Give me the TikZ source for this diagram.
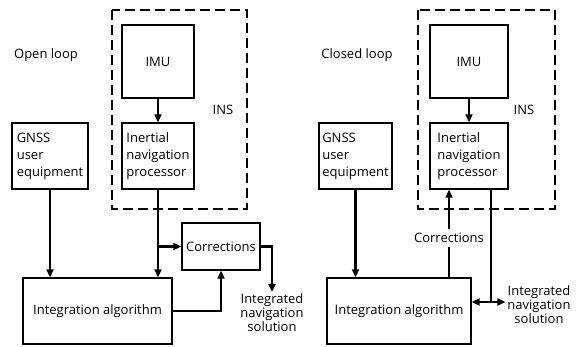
\documentclass[tikz,border=0pt]{standalone}
\usepackage{fontspec}
\setmainfont{Open Sans}
\usepackage{tikz}
\usetikzlibrary{arrows}
\usetikzlibrary{arrows.meta}
\usetikzlibrary{positioning}

\begin{document}
\begin{tikzpicture}[x=1pt, y=-1pt, >={Triangle[length=8pt,width=7pt]}, line width=2.2pt]
\tikzstyle{every node} = [font=\fontsize{13}{17}\selectfont]
\tikzstyle{block} = [draw=black, line width=1.4pt, align=left, inner sep=2pt]
\tikzstyle{insbox} = [draw=black, line width=2.6pt, dash pattern=on 10pt off 5pt]
\tikzstyle{label} = [align=center, inner sep=1pt, font=\fontsize{13}{14}\selectfont]

\useasboundingbox (0,0) rectangle (577,347);

% open loop
\node at (46,55) (TitleL) {Open loop};
\draw[insbox] (112,10) rectangle (247,209);
\node at (223,110) (InsL) {INS};
\node[block, minimum width=72pt, minimum height=73pt] at (158,61.5) (ImuL) {IMU};
\node[block, minimum width=72pt, minimum height=66pt] at (158,156) (InpL) {Inertial\\navigation\\processor};
\node[block, minimum width=76pt, minimum height=66pt] at (50,156) (GnssL) {GNSS\\user\\equipment};
\node[block, minimum width=149pt, minimum height=66pt] at (97.5,311) (IntL) {Integration algorithm};
\node[block, minimum width=78pt, minimum height=47pt] at (221,246.5) (CorrL) {Corrections};
\node[label] at (272,313) (OutL) {Integrated\\navigation\\solution};

\draw[->] (ImuL) -- (InpL);
\draw[->] (GnssL) -- (GnssL |- IntL.north);
\draw[->] (InpL.south) -- (InpL.south |- IntL.north);
\draw[->] (InpL.south |- CorrL.west) -- (CorrL.west);
\draw[->] (CorrL.east) -| (OutL.north);
\draw[->] (IntL.east) -| (CorrL.south);

% closed loop
\node at (357,55) (TitleR) {Closed loop};
\draw[insbox] (418,10) rectangle (555,209);
\node at (524,110) (InsR) {INS};
\node[block, minimum width=78pt, minimum height=73pt] at (469,61.5) (ImuR) {IMU};
\node[block, minimum width=78pt, minimum height=66pt] at (469,156) (InpR) {Inertial\\navigation\\processor};
\node[block, minimum width=73pt, minimum height=66pt] at (355.5,156) (GnssR) {GNSS\\user\\equipment};
\node[block, minimum width=144pt, minimum height=66pt] at (399,311) (IntR) {Integration algorithm};
\node[label, inner sep=3pt] at (449,238) (CorrR) {Corrections};
\node[label] at (539,305) (OutR) {Integrated\\navigation\\solution};
\coordinate (JR) at (491,302);

\draw[->] (ImuR) -- (InpR);
\draw[->] (GnssR) -- (GnssR |- IntR.north);
\draw (CorrR.south) -- (CorrR.south |- IntR.north);
\draw[->] (CorrR.north) -- (CorrR.north |- InpR.south);
\draw (JR |- InpR.south) -- (JR);
\draw[<->] (IntR.east |- JR) -- (JR -| OutR.west);

\end{tikzpicture}
\end{document}
